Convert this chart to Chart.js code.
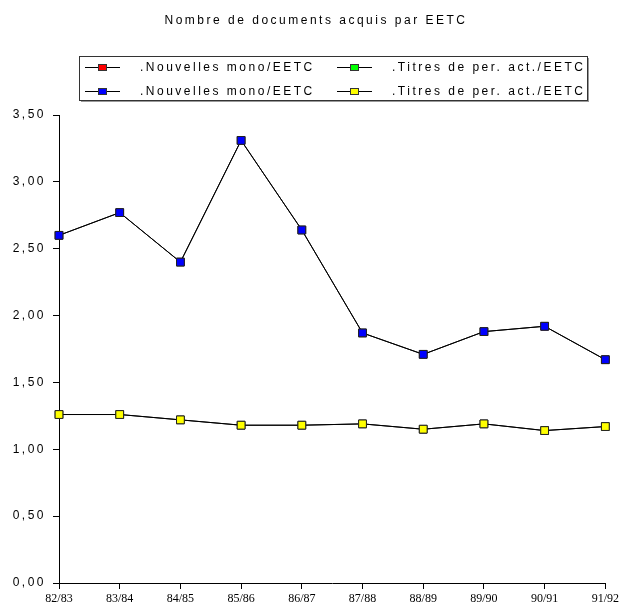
<!DOCTYPE html>
<html lang="fr">
<head>
  <meta charset="UTF-8">
  <title>Nombre de documents acquis par EETC</title>
  <style>
    body {
      margin: 0;
      background: #fff;
    }

    #chart {
      display: block;
    }
  </style>
</head>
<body>
  <canvas id="chart" width="622" height="605"></canvas>

  <script src="https://cdn.jsdelivr.net/npm/chart.js"></script>
  <script>
    const annees = ['82/83', '83/84', '84/85', '85/86', '86/87', '87/88', '88/89', '89/90', '90/91', '91/92'];
    const nouvellesMono = [2.60, 2.77, 2.40, 3.31, 2.64, 1.87, 1.71, 1.88, 1.92, 1.67];
    const titresPer = [1.26, 1.26, 1.22, 1.18, 1.18, 1.19, 1.15, 1.19, 1.14, 1.17];
    const yTickLabels = ['0,00', '0,50', '1,00', '1,50', '2,00', '2,50', '3,00', '3,50'];
    const titre = 'Nombre de documents acquis par EETC';
    const libelleMono = '.Nouvelles mono/EETC';
    const libelleTitres = '.Titres de per. act./EETC';

    const sansFont = 'Arial, "Liberation Sans", sans-serif';
    const serifFont = '"Times New Roman", "Liberation Serif", serif';
    const espacement = '2.5px'; // lettres espacées comme dans l'original

    // titre + légende encadrée dessinés à la main (la légende de Chart.js ne fait pas le trait + carré)
    const habillage = {
      id: 'habillage',
      beforeDraw(chart) {
        const y = chart.scales.y;
        if (!y._espace) {
          const drawLabels = y.drawLabels;
          y.drawLabels = function(area) {
            this.ctx.save();
            this.ctx.letterSpacing = espacement;
            drawLabels.call(this, area);
            this.ctx.restore();
          };
          y._espace = true;
        }
      },
      afterDraw(chart) {
        const ctx = chart.ctx;
        ctx.save();
        ctx.letterSpacing = espacement;
        ctx.font = '12px ' + sansFont;
        ctx.fillStyle = '#000';
        ctx.textAlign = 'center';
        ctx.fillText(titre, 316, 24);

        ctx.lineWidth = 1;
        ctx.strokeStyle = '#333';
        ctx.strokeRect(79.5, 56.5, 508, 44);
        ctx.strokeStyle = '#999';
        ctx.beginPath();
        ctx.moveTo(588.5, 58);
        ctx.lineTo(588.5, 102);
        ctx.moveTo(81, 101.5);
        ctx.lineTo(589, 101.5);
        ctx.stroke();

        ctx.textAlign = 'left';
        chart.data.datasets.forEach((ds, i) => {
          const x0 = i % 2 ? 337 : 85;
          const yc = i < 2 ? 67 : 91;
          ctx.strokeStyle = '#000';
          ctx.beginPath();
          ctx.moveTo(x0, yc + 0.5);
          ctx.lineTo(x0 + 35, yc + 0.5);
          ctx.stroke();
          ctx.fillStyle = ds.pointBackgroundColor;
          ctx.fillRect(x0 + 13, yc - 3, 9, 7);
          ctx.strokeStyle = '#333';
          ctx.strokeRect(x0 + 13.5, yc - 2.5, 8, 6);
          ctx.fillStyle = '#000';
          ctx.fillText(ds.label, x0 + 55, yc + 4);
        });
        ctx.restore();
      }
    };

    const serie = (label, data, couleur, ordre) => ({
      label: label,
      data: data,
      order: ordre,
      borderColor: '#000',
      borderWidth: 1,
      tension: 0,
      pointStyle: 'rect',
      pointRadius: 5.5,
      pointHoverRadius: 5.5,
      pointBackgroundColor: couleur,
      pointBorderColor: '#222',
      pointBorderWidth: 1
    });

    const axeCommun = {
      grid: {
        drawOnChartArea: false,
        drawTicks: true,
        tickLength: 6,
        color: '#000'
      },
      border: {
        color: '#000',
        width: 1
      }
    };

    new Chart(document.getElementById('chart'), {
      type: 'line',
      data: {
        labels: annees,
        datasets: [
          serie(libelleMono, nouvellesMono, '#ff0000', 1),
          serie(libelleTitres, titresPer, '#00ff00', 1),
          serie(libelleMono, nouvellesMono, '#0000ff', 0),
          serie(libelleTitres, titresPer, '#ffff00', 0)
        ]
      },
      options: {
        responsive: false,
        animation: false,
        layout: {
          padding: { top: 115, right: 16, bottom: 0, left: 0 }
        },
        plugins: {
          legend: { display: false },
          title: { display: false },
          tooltip: { enabled: false }
        },
        scales: {
          x: {
            ...axeCommun,
            offset: false,
            ticks: {
              font: { family: serifFont, size: 12 },
              color: '#000',
              padding: 3,
              maxRotation: 0,
              autoSkip: false
            },
            afterFit(scale) {
              scale.height = 22;
            }
          },
          y: {
            ...axeCommun,
            min: 0,
            max: 3.5,
            ticks: {
              stepSize: 0.5,
              font: { family: sansFont, size: 12 },
              color: '#000',
              padding: 7,
              callback: (value, index) => yTickLabels[index]
            },
            afterFit(scale) {
              scale.width = 59;
            }
          }
        }
      },
      plugins: [habillage]
    });
  </script>
</body>
</html>
